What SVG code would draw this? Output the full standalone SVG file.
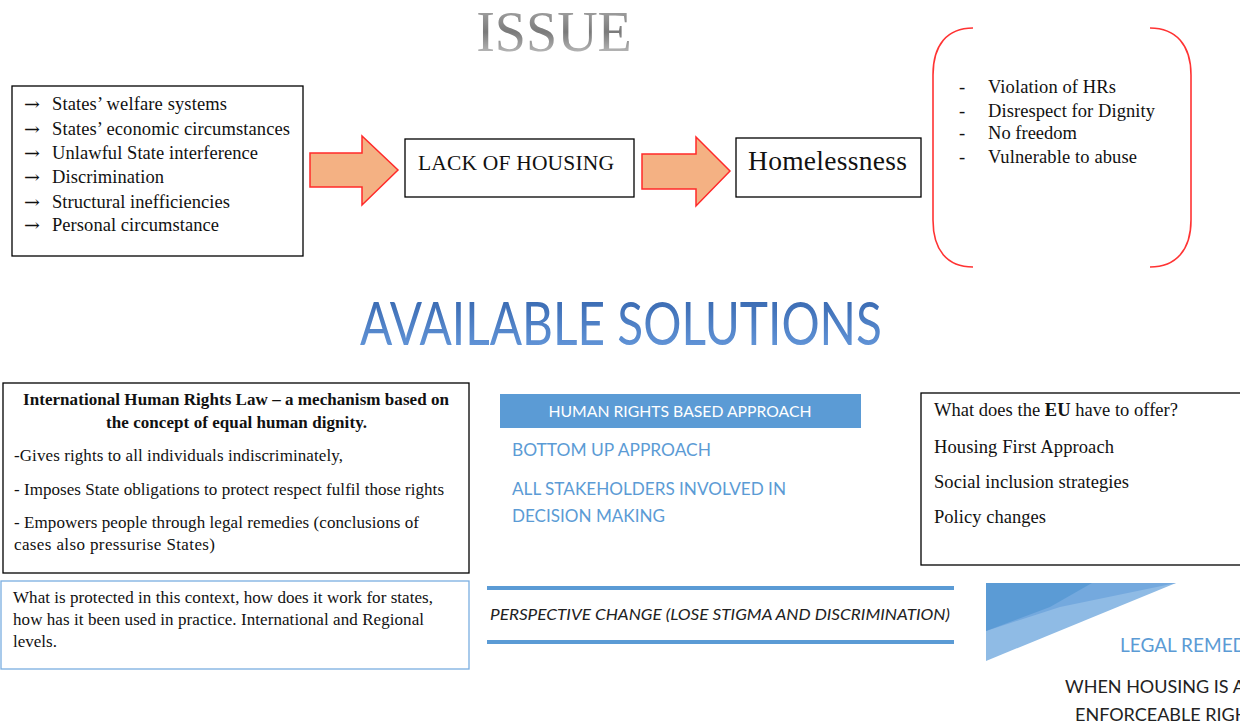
<svg xmlns="http://www.w3.org/2000/svg" width="1240" height="727" viewBox="0 0 1240 727">
<defs>
<linearGradient id="gIssue" x1="0" y1="0" x2="0" y2="1">
<stop offset="0" stop-color="#b0b0b0"/>
<stop offset="0.5" stop-color="#7a7a7a"/>
<stop offset="1" stop-color="#d6d6d6"/>
</linearGradient>
<linearGradient id="gSol" x1="0" y1="0" x2="0" y2="1">
<stop offset="0" stop-color="#2f5fa8"/>
<stop offset="1" stop-color="#6b9ee0"/>
</linearGradient>
<style>
.box{fill:#fff;stroke:#000;stroke-width:1.3}
.ser{font-family:"Liberation Serif","Times New Roman",serif;fill:#111}
.cal{font-family:Lato,"Open Sans",sans-serif}
.arrow{fill:#f4b183;stroke:#ff2a2a;stroke-width:1.5}
.blue{fill:#5b9bd5}
.ar{font-family:"DejaVu Serif",serif;font-size:17px;fill:#111}
</style>
</defs>

<g id="title-issue">
<text x="554" y="51" text-anchor="middle" class="ser" style="fill:url(#gIssue)" font-size="56">ISSUE</text>
</g>

<g id="causes">
<rect class="box" x="12" y="86" width="291" height="170"/>
<g class="ser" font-size="18.5">
<text class="ar" x="24" y="110" textLength="16" lengthAdjust="spacingAndGlyphs">→</text><text x="52" y="110" textLength="175" lengthAdjust="spacing">States’ welfare systems</text>
<text class="ar" x="24" y="135" textLength="16" lengthAdjust="spacingAndGlyphs">→</text><text x="52" y="135" textLength="238" lengthAdjust="spacing">States’ economic circumstances</text>
<text class="ar" x="24" y="159" textLength="16" lengthAdjust="spacingAndGlyphs">→</text><text x="52" y="159" textLength="206" lengthAdjust="spacing">Unlawful State interference</text>
<text class="ar" x="24" y="183" textLength="16" lengthAdjust="spacingAndGlyphs">→</text><text x="52" y="183" textLength="112" lengthAdjust="spacing">Discrimination</text>
<text class="ar" x="24" y="208" textLength="16" lengthAdjust="spacingAndGlyphs">→</text><text x="52" y="208" textLength="178" lengthAdjust="spacing">Structural inefficiencies</text>
<text class="ar" x="24" y="231" textLength="16" lengthAdjust="spacingAndGlyphs">→</text><text x="52" y="231" textLength="167" lengthAdjust="spacing">Personal circumstance</text>
</g>
</g>

<g id="connectors">
<polygon class="arrow" points="310,153 362,153 362,136 398,170 362,205 362,187 310,187"/>
<polygon class="arrow" points="642,154 696,154 696,137 730,171 696,206 696,189 642,189"/>
</g>

<g id="lack-of-housing">
<rect class="box" x="405" y="139" width="229" height="58"/>
<text x="418" y="170" class="ser" font-size="21.5" textLength="196" lengthAdjust="spacing">LACK OF HOUSING</text>
</g>

<g id="homelessness">
<rect class="box" x="736" y="138" width="185" height="59"/>
<text x="748" y="170" class="ser" font-size="27.5" textLength="159" lengthAdjust="spacing">Homelessness</text>
</g>

<g id="consequences">
<path d="M973 28 C947 28 933 45 933 75 L933 220 C933 250 947 267 973 267" fill="none" stroke="#ff3333" stroke-width="1.6"/>
<path d="M1150 28 C1176 28 1191 45 1191 75 L1191 220 C1191 250 1176 267 1150 267" fill="none" stroke="#ff3333" stroke-width="1.6"/>
<g class="ser" font-size="18.5">
<text x="959" y="93">-</text><text x="988" y="93" textLength="128" lengthAdjust="spacing">Violation of HRs</text>
<text x="959" y="117">-</text><text x="988" y="117" textLength="167" lengthAdjust="spacing">Disrespect for Dignity</text>
<text x="959" y="139">-</text><text x="988" y="139" textLength="89" lengthAdjust="spacing">No freedom</text>
<text x="959" y="163">-</text><text x="988" y="163" textLength="149" lengthAdjust="spacing">Vulnerable to abuse</text>
</g>
</g>

<g id="title-solutions">
<text x="360" y="345" class="cal" font-size="60" textLength="522" lengthAdjust="spacingAndGlyphs" style="fill:url(#gSol)">AVAILABLE SOLUTIONS</text>
</g>

<g id="ihrl">
<rect class="box" x="3" y="383" width="466" height="190"/>
<g class="ser" font-size="17">
<text x="23" y="405" font-weight="bold" textLength="426" lengthAdjust="spacing">International Human Rights Law – a mechanism based on</text>
<text x="106" y="428" font-weight="bold" textLength="261" lengthAdjust="spacing">the concept of equal human dignity.</text>
<text x="14" y="461" textLength="329" lengthAdjust="spacing">-Gives rights to all individuals indiscriminately,</text>
<text x="14" y="495" textLength="430" lengthAdjust="spacing">- Imposes State obligations to protect respect fulfil those rights</text>
<text x="14" y="528" textLength="405" lengthAdjust="spacing">- Empowers people through legal remedies (conclusions of</text>
<text x="14" y="550" textLength="201" lengthAdjust="spacing">cases also pressurise States)</text>
</g>
</g>

<g id="hrba">
<rect class="blue" x="500" y="394" width="361" height="34"/>
<text x="680" y="417" text-anchor="middle" class="cal" font-size="15" fill="#fff" textLength="263" lengthAdjust="spacingAndGlyphs">HUMAN RIGHTS BASED APPROACH</text>
<g class="cal" font-size="17" fill="#5b9bd5">
<text x="512" y="456" textLength="199" lengthAdjust="spacingAndGlyphs">BOTTOM UP APPROACH</text>
<text x="512" y="495" textLength="274" lengthAdjust="spacingAndGlyphs">ALL STAKEHOLDERS INVOLVED IN</text>
<text x="512" y="522" textLength="153" lengthAdjust="spacingAndGlyphs">DECISION MAKING</text>
</g>
</g>

<g id="eu">
<rect class="box" x="921" y="393" width="330" height="172"/>
<g class="ser" font-size="18.5">
<text x="934" y="416" textLength="244" lengthAdjust="spacing">What does the <tspan font-weight="bold">EU</tspan> have to offer?</text>
<text x="934" y="453" textLength="180" lengthAdjust="spacing">Housing First Approach</text>
<text x="934" y="488" textLength="195" lengthAdjust="spacing">Social inclusion strategies</text>
<text x="934" y="523" textLength="112" lengthAdjust="spacing">Policy changes</text>
</g>
</g>

<g id="context">
<rect x="1" y="581" width="468" height="88" fill="#fff" stroke="#7aaee0" stroke-width="1.3"/>
<g class="ser" font-size="17">
<text x="13" y="603" textLength="420" lengthAdjust="spacing">What is protected in this context, how does it work for states,</text>
<text x="13" y="625" textLength="411" lengthAdjust="spacing">how has it been used in practice. International and Regional</text>
<text x="13" y="647" textLength="44" lengthAdjust="spacing">levels.</text>
</g>
</g>

<g id="perspective">
<rect class="blue" x="487" y="586" width="467" height="4"/>
<rect class="blue" x="487" y="640" width="467" height="4"/>
<text x="490" y="620" class="cal" font-size="15" font-style="italic" fill="#222" textLength="460" lengthAdjust="spacingAndGlyphs">PERSPECTIVE CHANGE (LOSE STIGMA AND DISCRIMINATION)</text>
</g>

<g id="legal-remedies">
<polygon points="986,583 1176,583 986,661" fill="#8fbbe5"/>
<polygon points="986,583 1176,583 1060,607 986,631" fill="#74a9de"/>
<polygon points="986,583 1092,583 1050,607 986,631" fill="#5b9bd5"/>
<text x="1120" y="652" class="cal" font-size="19" fill="#5b9bd5">LEGAL REMEDIES</text>
<g class="cal" font-size="18" fill="#222">
<text x="1065" y="693">WHEN HOUSING IS AN</text>
<text x="1075" y="721">ENFORCEABLE RIGHT</text>
</g>
</g>
</svg>
